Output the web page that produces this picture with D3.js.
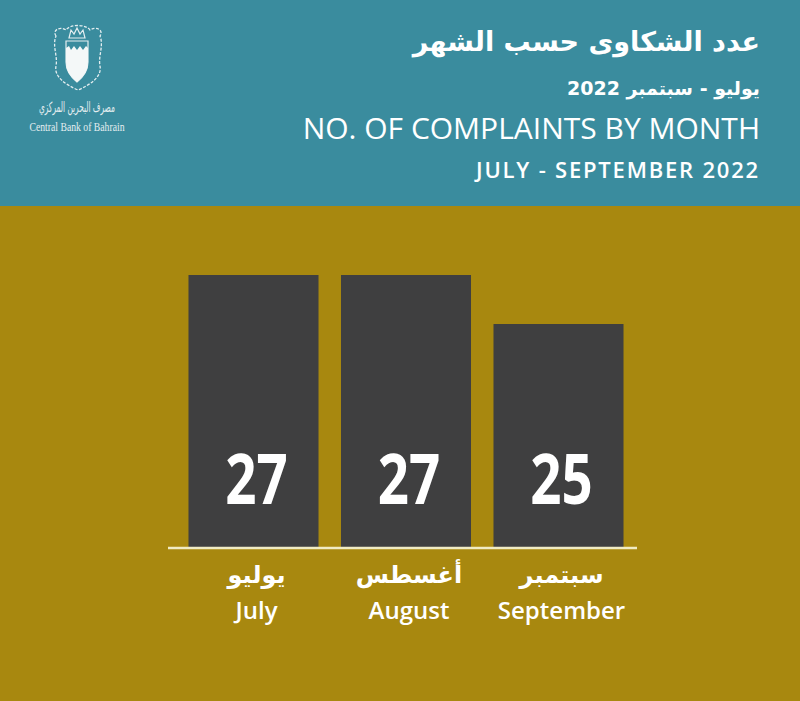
<!DOCTYPE html>
<html>
<head>
<meta charset="utf-8">
<script src="https://cdn.jsdelivr.net/npm/d3@7"></script>
<style>
  body { margin: 0; background: #a8880f; }
  svg { display: block; }
</style>
</head>
<body>
<svg id="canvas" width="800" height="701"></svg>
<script>
const monthsEn = ["July", "August", "September"];
const monthsAr = ["يوليو", "أغسطس", "سبتمبر"];
const complaints = [27, 27, 25];

const titleAr = "عدد الشكاوى حسب الشهر";
const periodAr = "يوليو - سبتمبر 2022";
const titleEn = "NO. OF COMPLAINTS BY MONTH";
const periodEn = "JULY - SEPTEMBER 2022";

const canvas = d3.select("#canvas");
const W = 800, H = 701;

// background: teal header band over gold
canvas.append("rect").attr("width", W).attr("height", H).attr("fill", "#a8880f");
canvas.append("rect").attr("width", W).attr("height", 206).attr("fill", "#3a8c9e");

// header texts
const head = canvas.append("g").attr("fill", "#fff").attr("text-anchor", "end");
head.append("text").attr("x", 760).attr("y", 51)
  .attr("font-family", "DejaVu Sans").attr("font-weight", "bold").attr("font-size", 27)
  .attr("direction", "rtl").attr("text-anchor", "start").text(titleAr);
head.append("text").attr("x", 760).attr("y", 95)
  .attr("font-family", "DejaVu Sans").attr("font-weight", "bold").attr("font-size", 19)
  .attr("direction", "rtl").attr("text-anchor", "start").text(periodAr);
head.append("text").attr("x", 760).attr("y", 139)
  .attr("font-family", "Open Sans").attr("font-weight", 500).attr("font-size", 30)
  .text(titleEn);
head.append("text").attr("x", 760).attr("y", 178)
  .attr("font-family", "Open Sans").attr("font-weight", 600).attr("font-size", 22)
  .attr("letter-spacing", 1.8)
  .text(periodEn);

// logo (simplified crest)
const logo = canvas.append("g").attr("fill", "none").attr("stroke", "#e4eef0");
logo.append("path")
  .attr("d", "M56,36 C52,30 60,26 66,30 C70,24 86,24 90,30 C96,26 104,30 100,36 C104,46 98,56 100,66 C102,76 92,84 78,90 C64,84 54,76 56,66 C58,56 52,46 56,36 Z")
  .attr("stroke-width", 1.3).attr("stroke-dasharray", "3,1.5");
logo.append("path")
  .attr("d", "M69,38 L71,30 L74,34 L77,28 L80,34 L83,30 L85,38 Z")
  .attr("stroke-width", 1.2);
logo.append("path")
  .attr("d", "M66,41 L88,41 L88,62 C88,72 82,78 77,82 C72,78 66,72 66,62 Z")
  .attr("stroke-width", 1.2);
logo.append("path")
  .attr("d", "M66,48 L69,46 L71,50 L74,46 L77,50 L80,46 L83,50 L86,46 L88,48 L88,62 C88,72 82,78 77,82 C72,78 66,72 66,62 Z")
  .attr("fill", "#f4f8f8").attr("stroke", "none");
canvas.append("text").attr("x", 77).attr("y", 112).attr("text-anchor", "middle")
  .attr("fill", "#e4eef0").attr("font-family", "DejaVu Serif, DejaVu Sans").attr("font-size", 14)
  .attr("textLength", 76).attr("lengthAdjust", "spacingAndGlyphs")
  .attr("direction", "rtl").text("مصرف البحرين المركزي");
canvas.append("text").attr("x", 77).attr("y", 131).attr("text-anchor", "middle")
  .attr("fill", "#e4eef0").attr("font-family", "Liberation Serif").attr("font-size", 12)
  .attr("textLength", 95).attr("lengthAdjust", "spacingAndGlyphs")
  .text("Central Bank of Bahrain");

// scales
const x = d3.scaleBand().domain(monthsEn).range([173, 639])
  .paddingInner(0.1475).paddingOuter(0.1016);
const y = d3.scaleLinear().domain([15.9, 27]).range([547, 275]);

// bars
canvas.append("g").selectAll("rect")
  .data(complaints)
  .enter()
  .append("rect")
  .attr("x", (d, i) => x(monthsEn[i]))
  .attr("y", (d) => y(d))
  .attr("width", x.bandwidth())
  .attr("height", (d) => y.range()[0] - y(d))
  .attr("fill", "#3f3f40");

// values (condensed by horizontal scale)
canvas.append("g").selectAll("text")
  .data(complaints)
  .enter()
  .append("text")
  .attr("transform", (d, i) =>
    `translate(${x(monthsEn[i]) + x.bandwidth() / 2 + 3},504) scale(0.78,1)`)
  .attr("text-anchor", "middle")
  .attr("fill", "#fff")
  .attr("font-family", "Open Sans")
  .attr("font-weight", "bold")
  .attr("font-size", 70)
  .text((d) => d);

// baseline
canvas.append("line")
  .attr("x1", x.range()[0] - 5).attr("x2", x.range()[1] - 2)
  .attr("y1", 548).attr("y2", 548)
  .attr("stroke", "#f1ecc4").attr("stroke-width", 2.5);

// month labels
const labels = canvas.append("g").attr("fill", "#fff").attr("text-anchor", "middle");
labels.selectAll("text.ar")
  .data(monthsAr)
  .enter()
  .append("text")
  .attr("class", "ar")
  .attr("x", (d, i) => x(monthsEn[i]) + x.bandwidth() / 2 + 3)
  .attr("y", 583)
  .attr("direction", "rtl")
  .attr("font-family", "DejaVu Sans")
  .attr("font-weight", "bold")
  .attr("font-size", 24)
  .text((d) => d);
labels.selectAll("text.en")
  .data(monthsEn)
  .enter()
  .append("text")
  .attr("class", "en")
  .attr("x", (d) => x(d) + x.bandwidth() / 2 + 3)
  .attr("y", 619)
  .attr("font-family", "Open Sans")
  .attr("font-weight", 600)
  .attr("font-size", 24)
  .text((d) => d);
</script>
</body>
</html>
